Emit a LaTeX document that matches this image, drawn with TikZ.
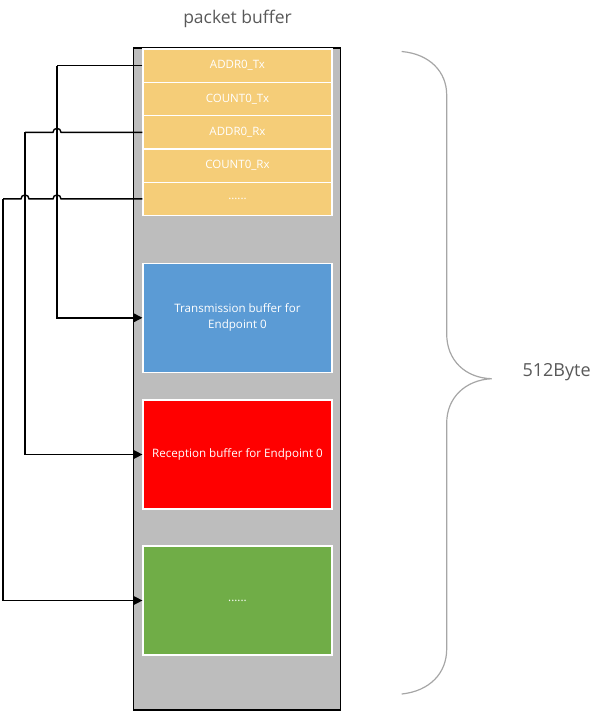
\documentclass[tikz,border=0pt]{standalone}
\usepackage{fontspec}
\setmainfont{Open Sans}
\usetikzlibrary{arrows.meta}
\definecolor{colgray}{HTML}{BDBDBD}
\definecolor{cellyel}{HTML}{F5CD78}
\definecolor{txblue}{HTML}{5B9BD5}
\definecolor{rxred}{HTML}{FF0000}
\definecolor{othgreen}{HTML}{70AD47}
\definecolor{txtgray}{HTML}{595959}
\definecolor{bracegray}{HTML}{A6A6A6}
\tikzset{
  cell/.style={draw=white, line width=1.2pt, fill=cellyel, minimum width=189pt, minimum height=33.3pt, inner sep=0pt, text=white, font=\fontsize{11.5}{13}\selectfont},
  bufbox/.style={draw=white, line width=1.2pt, minimum width=189pt, minimum height=109pt, inner sep=0pt, text=white, align=center, font=\fontsize{11.6}{16}\selectfont},
  link/.style={draw=black, line width=1.4pt},
  linkarrow/.style={link, -{Triangle[length=9pt, width=9pt]}},
}
\begin{document}
\begin{tikzpicture}[x=1pt, y=-1pt]
\useasboundingbox (0,0) rectangle (601,713);
% column
\node[draw=black, line width=1.6pt, fill=colgray, minimum width=207pt, minimum height=662pt, inner sep=0pt] (col) at (237,379) {};
\node[text=txtgray, font=\fontsize{17.5}{19}\selectfont] (title) at (237.5,19) {packet buffer};
% cells
\node[cell] (a1) at (237.5,65.7) {ADDR0\_Tx};
\node[cell] (a2) at (237.5,99) {COUNT0\_Tx};
\node[cell] (a3) at (237.5,132.3) {ADDR0\_Rx};
\node[cell] (a4) at (237.5,165.6) {COUNT0\_Rx};
\node[cell] (a5) at (237.5,198.9) {......};
% buffers
\node[bufbox, fill=txblue] (tx) at (237.5,317.8) {Transmission buffer for\\Endpoint 0};
\node[bufbox, fill=rxred] (rx) at (237.5,454.5) {Reception buffer for Endpoint 0};
\node[bufbox, fill=othgreen] (oth) at (237.5,600.5) {......};
% connectors
\coordinate (c1) at (57,65.7);
\coordinate (c2) at (25,132.3);
\coordinate (c3) at (3,198.9);
\draw[link] (a1.west) -- (c1);
\draw[linkarrow] (c1) |- (tx.west);
\draw[link] (a3.west) -- (61,132.3) arc[start angle=0, end angle=180, radius=4pt] -- (c2);
\draw[linkarrow] (c2) |- (rx.west);
\draw[link] (a5.west) -- (61,198.9) arc[start angle=0, end angle=180, radius=4pt] -- (29,198.9) arc[start angle=0, end angle=180, radius=4pt] -- (c3);
\draw[linkarrow] (c3) |- (oth.west);
% brace
\draw[bracegray, line width=1.2pt] (401.7,51.5) .. controls (430,54) and (446.7,72) .. (446.7,95) -- (446.7,334) .. controls (446.7,360) and (465,378) .. (491.7,378.7) .. controls (465,380) and (446.7,398) .. (446.7,423) -- (446.7,649) .. controls (446.7,673) and (430,691) .. (401.7,694);
\node[text=txtgray, anchor=west, font=\fontsize{18}{20}\selectfont] (sz) at (519,372) {512Byte};
\end{tikzpicture}
\end{document}
